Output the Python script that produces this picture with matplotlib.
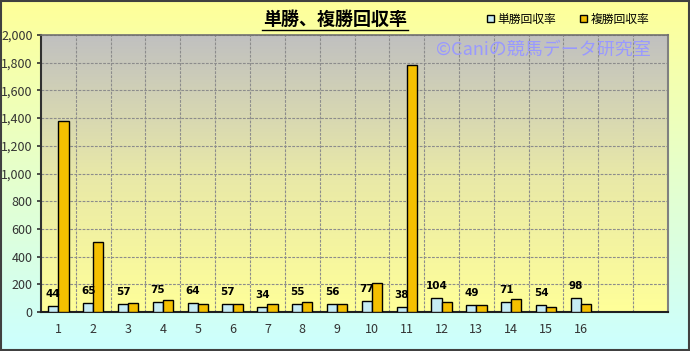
import matplotlib.pyplot as plt
import numpy as np
from matplotlib.colors import LinearSegmentedColormap
from matplotlib.lines import Line2D
from matplotlib.patches import Rectangle

plt.rcParams['font.family'] = ['Noto Sans CJK JP', 'DejaVu Sans']

# データ
categories = [str(i) for i in range(1, 17)] + ['', '']
tansho = [44, 65, 57, 75, 64, 57, 34, 55, 56, 77, 38, 104, 49, 71, 54, 98]
fukusho = [1380, 505, 63, 87, 58, 58, 58, 72, 55, 209, 1780, 72, 48, 94, 38, 60]
yticks = [0, 200, 400, 600, 800, 1000, 1200, 1400, 1600, 1800, 2000]

fig = plt.figure(figsize=(6.9, 3.51), dpi=100)

# 背景のグラデーション (黄色 -> 水色)
bg = fig.add_axes([0, 0, 1, 1], zorder=-10)
bg_cmap = LinearSegmentedColormap.from_list('bg', ['#ffff99', '#ccffff'])
bg.imshow(np.linspace(0, 1, 256).reshape(-1, 1), cmap=bg_cmap, aspect='auto',
          extent=[0, 1, 0, 1], origin='upper')
bg.set_axis_off()
fig.patches.append(Rectangle((0.001, 0.002), 0.997, 0.995, transform=fig.transFigure,
                             fill=False, edgecolor='#404040', linewidth=1.5))

ax = fig.add_axes([41 / 690, 39 / 351, 627 / 690, 277 / 351])
ax.set_facecolor('none')

# プロットエリアのグラデーション (灰色 -> 黄色)
pa_cmap = LinearSegmentedColormap.from_list('pa', ['#c0c0c0', '#e8e8a8', '#ffff99'])
ax.imshow(np.linspace(0, 1, 256).reshape(-1, 1), cmap=pa_cmap, aspect='auto',
          extent=[-0.5, 17.5, 0, 2000], origin='upper', zorder=0)

x = np.arange(len(tansho))
w = 0.29
b1 = ax.bar(x - w / 2, tansho, w, color='#c6ecf4', edgecolor='black', linewidth=1,
            label='単勝回収率', zorder=3)
b2 = ax.bar(x + w / 2, fukusho, w, color='#f5c000', edgecolor='black', linewidth=1,
            label='複勝回収率', zorder=3)

for xi, v in zip(x, tansho):
    ax.annotate(str(v), (xi - w / 2, v), xytext=(0, 5), textcoords='offset points',
                ha='center', va='bottom', fontsize=7.5, fontweight='bold',
                family='DejaVu Sans', zorder=4)

ax.set_xlim(-0.5, 17.5)
ax.set_ylim(0, 2000)
ax.set_xticks(np.arange(len(categories)))
ax.set_xticklabels(categories)
ax.set_xticks(np.arange(len(categories)) + 0.5, minor=True)
ax.set_yticks(yticks)
ax.set_yticklabels(['{:,}'.format(t) for t in yticks])
ax.tick_params(axis='y', length=3, width=1.2, color='#303030', labelsize=9,
               labelcolor='#333333', pad=3)
ax.tick_params(axis='x', which='major', length=0, labelsize=9, labelcolor='#333333', pad=8)
ax.tick_params(axis='x', which='minor', length=0)
grid_kw = dict(linestyle=(0, (2.5, 1.2)), color='#8c8c8c', linewidth=0.8, zorder=1)
ax.grid(axis='y', which='major', **grid_kw)
ax.grid(axis='x', which='minor', **grid_kw)
ax.spines['left'].set_color('#303030')
ax.spines['left'].set_linewidth(1.5)
ax.spines['top'].set_color('#707070')
ax.spines['top'].set_linewidth(1.2)
ax.spines['right'].set_color('#808080')
ax.spines['right'].set_linewidth(1.5)
ax.spines['bottom'].set_color('#202020')
ax.spines['bottom'].set_linewidth(1.5)

# 透かし
ax.text(0.63, 0.945, '©Caniの競馬データ研究室', transform=ax.transAxes, fontsize=13,
        color='#9999ff', ha='left', va='center', zorder=2)

# タイトル (下線付き)
fig.text(335 / 690, 1 - 19 / 351, '単勝、複勝回収率', ha='center', va='center',
         fontsize=13, fontweight='bold')
fig.add_artist(Line2D([262 / 690, 408 / 690], [1 - 30 / 351, 1 - 30 / 351],
                      color='black', linewidth=1))

leg = fig.legend(handles=[b1, b2], loc='center', bbox_to_anchor=(568 / 690, 1 - 19 / 351),
                 ncol=2, frameon=False, fontsize=8.5, handlelength=0.6, handleheight=0.6,
                 columnspacing=2.0, handletextpad=0.3)

fig.savefig('out.png', dpi=100)
